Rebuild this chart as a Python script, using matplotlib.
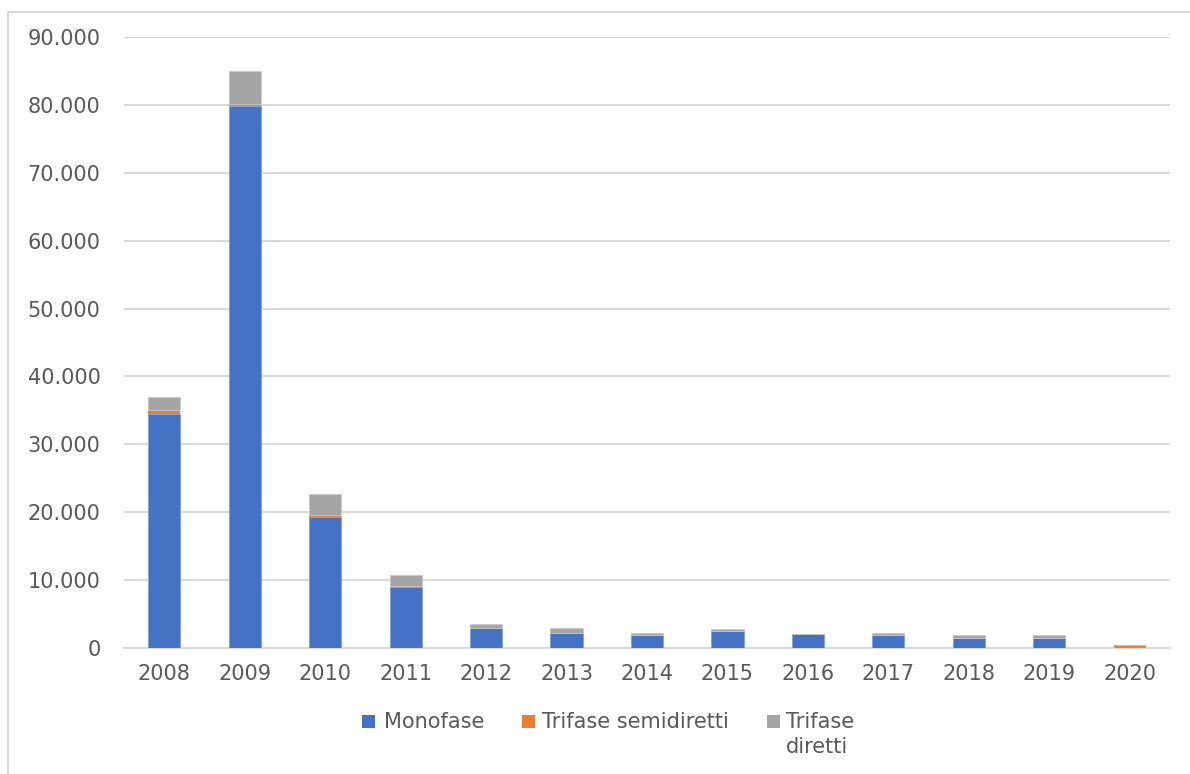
import matplotlib
matplotlib.use("Agg")
import matplotlib.pyplot as plt
from matplotlib.ticker import FuncFormatter, MultipleLocator
from matplotlib.patches import Rectangle
from matplotlib.lines import Line2D
import numpy as np

# Meter counts per year, stacked by type
years = ["2008", "2009", "2010", "2011", "2012", "2013", "2014",
         "2015", "2016", "2017", "2018", "2019", "2020"]
monofase = [34500, 79800, 19300, 9000, 2900, 2200, 1900,
            2400, 2000, 1900, 1500, 1500, 0]
trifase_semidiretti = [500, 400, 200, 100, 0, 0, 0,
                       0, 0, 0, 0, 0, 350]
trifase_diretti = [2000, 4800, 3200, 1600, 600, 700, 300,
                   300, 50, 300, 350, 350, 50]
series_labels = ["Monofase", "Trifase semidiretti", "Trifase", "diretti"]
colors = ["#4472C4", "#ED7D31", "#A5A5A5"]
text_color = "#595959"
grid_color = "#D9D9D9"
fs = 15

W, H = 1190, 774
fig = plt.figure(figsize=(W / 100, H / 100), dpi=100)
plt.rcParams["font.family"] = "DejaVu Sans"

left, right = 124 / W, 1170 / W
bottom, top = (H - 647.7) / H, (H - 37.3) / H
ax = fig.add_axes([left, bottom, right - left, top - bottom])

x = np.arange(len(years))
m = np.array(monofase)
s = np.array(trifase_semidiretti)
d = np.array(trifase_diretti)
bw = 0.4
ax.bar(x, m, bw, color=colors[0], edgecolor="#7F9FD8", linewidth=0.6, zorder=3)
ax.bar(x, s, bw, bottom=m, color=colors[1], linewidth=0, zorder=3)
ax.bar(x, d, bw, bottom=m + s, color=colors[2], edgecolor="#C8C8C8",
       linewidth=0.6, zorder=3)

ax.set_xlim(-0.5, len(years) - 0.5)
ax.set_ylim(0, 90000)
ax.yaxis.set_major_locator(MultipleLocator(10000))
ax.yaxis.set_major_formatter(FuncFormatter(lambda v, p: f"{int(v):,}".replace(",", ".")))
ax.set_xticks(x)
ax.set_xticklabels(years)
ax.tick_params(axis="both", length=0, labelsize=fs, colors=text_color)
ax.tick_params(axis="x", pad=12)
ax.tick_params(axis="y", pad=17)
ax.grid(axis="y", color=grid_color, linewidth=1.4, zorder=0)
ax.set_axisbelow(True)
for sp in ["top", "right", "left"]:
    ax.spines[sp].set_visible(False)
ax.spines["bottom"].set_color(grid_color)
ax.spines["bottom"].set_linewidth(1.4)

# Outer chart frame (left and top edges)
fig.add_artist(Line2D([8 / W, 8 / W], [0, 1 - 12 / H], color=grid_color, linewidth=1.4))
fig.add_artist(Line2D([8 / W, 1], [1 - 12 / H, 1 - 12 / H], color=grid_color, linewidth=1.4))

# Legend
def legend_entry(xs, xt, label, color, yc=721.5):
    fig.add_artist(Rectangle((xs / W, 1 - (yc + 6.5) / H), 13 / W, 13 / H,
                             facecolor=color, edgecolor="none",
                             transform=fig.transFigure))
    fig.text(xt / W, 1 - yc / H, label, color=text_color, fontsize=fs,
             ha="left", va="center")

legend_entry(362, 384, series_labels[0], colors[0])
legend_entry(522, 542, series_labels[1], colors[1])
legend_entry(767, 786, series_labels[2], colors[2])
fig.text(786 / W, 1 - 747 / H, series_labels[3], color=text_color,
         fontsize=fs, ha="left", va="center")

fig.savefig("out.png", dpi=100)
